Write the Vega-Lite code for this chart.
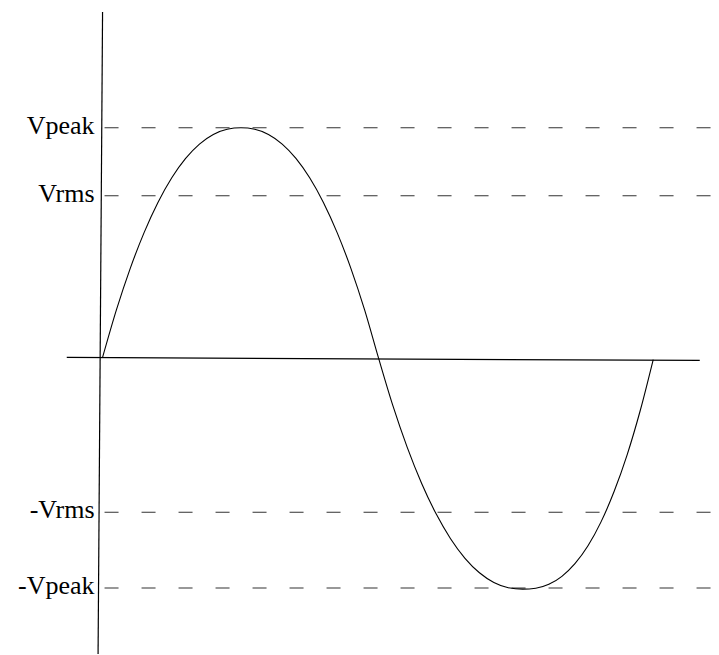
{
  "$schema": "https://vega.github.io/schema/vega-lite/v6.json",
  "width": 719,
  "height": 655,
  "autosize": {"type": "fit", "contains": "padding"},
  "padding": 0,
  "background": "white",
  "config": {"view": {"stroke": null}},
  "datasets": {
    "wave": [
      {"deg": 0, "v": 0},
      {"deg": 9.05, "v": 0.2069},
      {"deg": 18.1, "v": 0.3879},
      {"deg": 27.15, "v": 0.5437},
      {"deg": 36.2, "v": 0.675},
      {"deg": 45.25, "v": 0.7824},
      {"deg": 54.3, "v": 0.8668},
      {"deg": 63.35, "v": 0.9292},
      {"deg": 72.4, "v": 0.971},
      {"deg": 81.45, "v": 0.9937},
      {"deg": 90.5, "v": 1.0},
      {"deg": 99.48, "v": 0.9937},
      {"deg": 108.46, "v": 0.971},
      {"deg": 117.44, "v": 0.9292},
      {"deg": 126.42, "v": 0.8668},
      {"deg": 135.4, "v": 0.7824},
      {"deg": 144.38, "v": 0.675},
      {"deg": 153.36, "v": 0.5437},
      {"deg": 162.34, "v": 0.3879},
      {"deg": 171.32, "v": 0.2069},
      {"deg": 180.3, "v": 0},
      {"deg": 189.74, "v": -0.2088},
      {"deg": 199.18, "v": -0.3914},
      {"deg": 208.62, "v": -0.5486},
      {"deg": 218.06, "v": -0.6811},
      {"deg": 227.5, "v": -0.7894},
      {"deg": 236.94, "v": -0.8746},
      {"deg": 246.38, "v": -0.9376},
      {"deg": 255.82, "v": -0.9797},
      {"deg": 265.26, "v": -1.0026},
      {"deg": 274.7, "v": -1.009},
      {"deg": 283.23, "v": -1.005},
      {"deg": 291.76, "v": -0.988},
      {"deg": 300.29, "v": -0.953},
      {"deg": 308.82, "v": -0.898},
      {"deg": 317.35, "v": -0.82},
      {"deg": 325.88, "v": -0.716},
      {"deg": 334.41, "v": -0.584},
      {"deg": 342.94, "v": -0.424},
      {"deg": 351.47, "v": -0.232},
      {"deg": 360, "v": -0.009}
    ],
    "levels": [
      {"label": "Vpeak", "v": 1.0},
      {"label": "Vrms", "v": 0.704},
      {"label": "-Vrms", "v": -0.674},
      {"label": "-Vpeak", "v": -1.004}
    ],
    "axes": [
      {"name": "time", "x1": -23.4, "y1": 0, "x2": 390.4, "y2": -0.013},
      {"name": "voltage", "x1": 0, "y1": 1.504, "x2": -2.93, "y2": -1.2913}
    ]
  },
  "layer": [
    {
      "data": {"name": "axes"},
      "mark": {"type": "rule", "color": "black", "strokeWidth": 1.2},
      "encoding": {
        "x": {"field": "x1", "type": "quantitative", "scale": {"domain": [-67.05, 401.04]}, "axis": null},
        "y": {"field": "y1", "type": "quantitative", "scale": {"domain": [-1.2913, 1.5565]}, "axis": null},
        "x2": {"field": "x2"},
        "y2": {"field": "y2"}
      }
    },
    {
      "data": {"name": "levels"},
      "mark": {"type": "rule", "color": "#333333", "strokeWidth": 1.1, "strokeDash": [14, 23]},
      "encoding": {
        "x": {"datum": 1.3, "type": "quantitative", "scale": {"domain": [-67.05, 401.04]}, "axis": null},
        "x2": {"datum": 402},
        "y": {"field": "v", "type": "quantitative", "scale": {"domain": [-1.2913, 1.5565]}, "axis": null}
      }
    },
    {
      "data": {"name": "levels"},
      "mark": {"type": "text", "align": "right", "baseline": "alphabetic", "dx": -8, "dy": 6, "font": "Liberation Serif", "fontSize": 26, "color": "black"},
      "encoding": {
        "x": {"datum": 0, "type": "quantitative", "scale": {"domain": [-67.05, 401.04]}, "axis": null},
        "y": {"field": "v", "type": "quantitative", "scale": {"domain": [-1.2913, 1.5565]}, "axis": null},
        "text": {"field": "label"}
      }
    },
    {
      "data": {"name": "wave"},
      "mark": {"type": "line", "color": "black", "strokeWidth": 1.1, "interpolate": "monotone"},
      "encoding": {
        "x": {"field": "deg", "type": "quantitative", "scale": {"domain": [-67.05, 401.04]}, "axis": null},
        "y": {"field": "v", "type": "quantitative", "scale": {"domain": [-1.2913, 1.5565]}, "axis": null},
        "order": {"field": "deg"}
      }
    }
  ]
}
